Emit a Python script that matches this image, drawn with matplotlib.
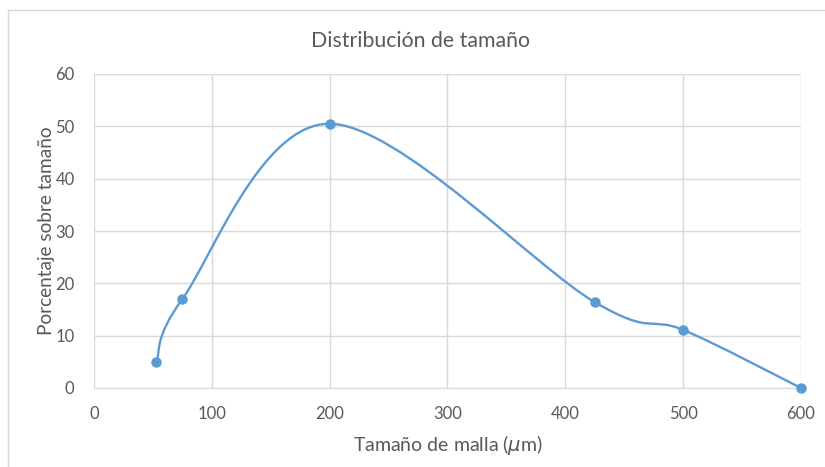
import matplotlib
matplotlib.use('Agg')
import matplotlib.pyplot as plt
import numpy as np
from matplotlib.path import Path
from matplotlib.patches import PathPatch

# ── data ──────────────────────────────────────────────────────────────────────
mesh_um = [53, 75, 200, 425, 500, 600]
pct = [5.0, 17.0, 50.5, 16.4, 11.1, 0.0]

x_ticks = [0, 100, 200, 300, 400, 500, 600]
y_ticks = [0, 10, 20, 30, 40, 50, 60]

title = 'Distribución de tamaño'
x_label = r'Tamaño de malla ($\mu$m)'
y_label = 'Porcentaje sobre tamaño'

BLUE = '#5B9BD5'
TEXT = '#595959'
GRID = '#D9D9D9'

plt.rcParams['font.family'] = ['Lato', 'DejaVu Sans']
plt.rcParams['mathtext.fontset'] = 'dejavusans'


def smooth_path(xs, ys):
    """Cubic Bezier through the points, spreadsheet-style smoothing."""
    p = np.column_stack([xs, ys]).astype(float)
    n = len(p)
    verts = [p[0]]
    codes = [Path.MOVETO]
    for i in range(n - 1):
        p_prev = p[i - 1] if i > 0 else p[i]
        p_next2 = p[i + 2] if i + 2 < n else p[i + 1]
        c1 = p[i] + (p[i + 1] - p_prev) / 6.0
        c2 = p[i + 1] - (p_next2 - p[i]) / 6.0
        verts += [c1, c2, p[i + 1]]
        codes += [Path.CURVE4] * 3
    return Path(verts, codes)


fig = plt.figure(figsize=(8.25, 4.67), dpi=100)
ax = fig.add_axes([94 / 825, 1 - 388 / 467, 707 / 825, 314 / 467])

# outer chart frame (left/top edges visible)
frame = plt.Rectangle((8 / 825, -0.1), 1.2, 1 - 10 / 467 + 0.1,
                      transform=fig.transFigure, fill=False,
                      edgecolor=GRID, lw=1.0)
fig.add_artist(frame)

ax.add_patch(PathPatch(smooth_path(mesh_um, pct), fill=False,
                       edgecolor=BLUE, lw=1.7, capstyle='round', zorder=3))
ax.plot(mesh_um, pct, linestyle='none', marker='o', ms=6.5,
        color=BLUE, zorder=4, clip_on=False)

ax.set_xlim(0, 600)
ax.set_ylim(0, 60)
ax.set_xticks(x_ticks)
ax.set_yticks(y_ticks)
ax.grid(True, color=GRID, lw=1.0)
ax.set_axisbelow(True)
for side in ('top', 'right', 'left'):
    ax.spines[side].set_visible(False)
ax.spines['bottom'].set_color(GRID)
ax.tick_params(length=0, colors=TEXT, labelsize=12)
ax.tick_params(axis='y', pad=14)
ax.tick_params(axis='x', pad=13)

fig.text(421 / 825, 1 - 41 / 467, title, color=TEXT, fontsize=15.3,
         ha='center', va='center')
ax.set_xlabel(x_label, color=TEXT, fontsize=14, labelpad=8)
ax.set_ylabel(y_label, color=TEXT, fontsize=13.7)
ax.yaxis.set_label_coords(-39 / 707, 0.5)

fig.savefig('out.png', dpi=100)
